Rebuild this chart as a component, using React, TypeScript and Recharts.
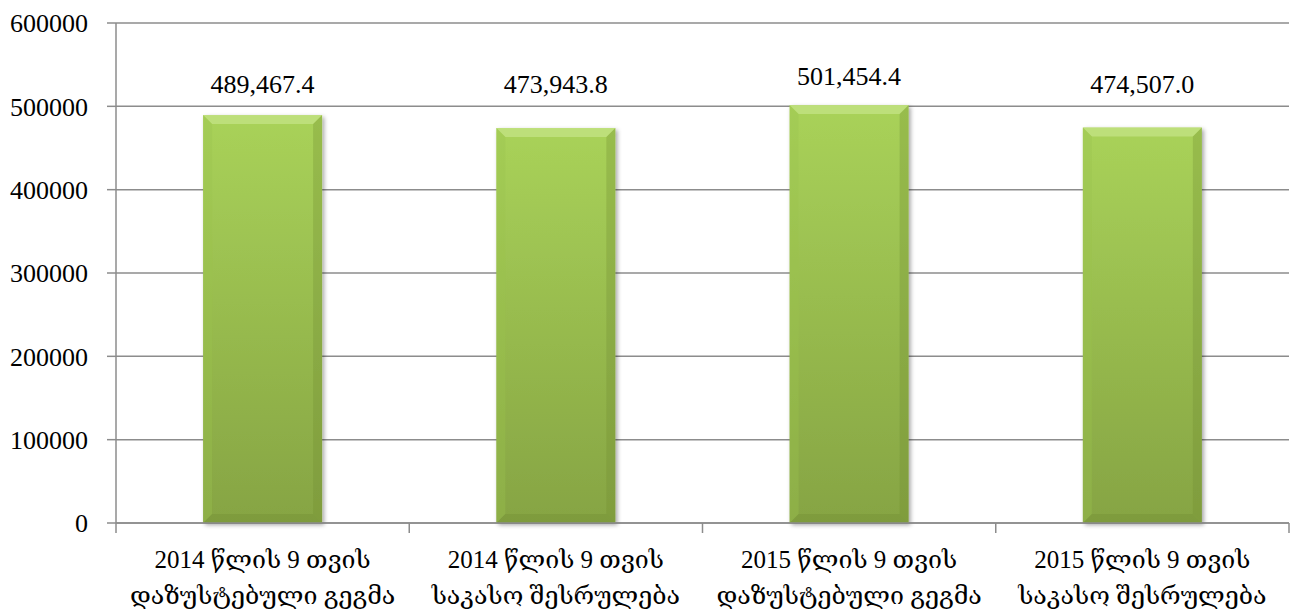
import React from 'react';
import { BarChart, Bar, XAxis, YAxis, CartesianGrid, LabelList } from 'recharts';

const categories = [
  '2014 წლის 9 თვის\nდაზუსტებული გეგმა',
  '2014 წლის 9 თვის\nსაკასო შესრულება',
  '2015 წლის 9 თვის\nდაზუსტებული გეგმა',
  '2015 წლის 9 თვის\nსაკასო შესრულება',
];
const amounts = [489467.4, 473943.8, 501454.4, 474507.0];
const yTicks = [0, 100000, 200000, 300000, 400000, 500000, 600000];

const data = categories.map((name, i) => ({ name, value: amounts[i] }));

const WIDTH = 1291;
const HEIGHT = 611;
const AXIS_W = 116;
const RIGHT = 2;
const STEP = (WIDTH - AXIS_W - RIGHT) / categories.length;

const FONT = '"Liberation Serif", "DejaVu Serif", "Times New Roman", serif';
const GRID = '#8c8c8c';

const fmt = (v: number) =>
  v.toLocaleString('en-US', { minimumFractionDigits: 1, maximumFractionDigits: 1 });

// category label in two lines, plus tick marks on the band edges
const CategoryTick = (props: any) => {
  const { x, y, payload, index } = props;
  const lines = String(payload.value).split('\n');
  const left = x - STEP / 2;
  return (
    <g>
      <line x1={left} y1={y} x2={left} y2={y + 10} stroke={GRID} strokeWidth={1.5} />
      {index === categories.length - 1 && (
        <line x1={x + STEP / 2} y1={y} x2={x + STEP / 2} y2={y + 10} stroke={GRID} strokeWidth={1.5} />
      )}
      {lines.map((l, i) => (
        <text key={i} x={x} y={y + 45 + i * 36} textAnchor="middle" fill="#000" style={{ fontSize: 25, fontFamily: FONT }}>
          {l}
        </text>
      ))}
    </g>
  );
};

// value labels sit on a common line unless the bar pushes them higher
const LABEL_LINE = 93;
const ValueLabel = (props: any) => {
  const { x, y, width, value } = props;
  const base = Math.min(y - 20, LABEL_LINE);
  return (
    <text x={x + width / 2} y={base} textAnchor="middle" fill="#000" style={{ fontSize: 26, fontFamily: FONT }}>
      {fmt(Number(value))}
    </text>
  );
};

// bevelled bar with a soft shadow
const BevelBar = (props: any) => {
  const { x, y, width: w, height: h } = props;
  if (!h || h <= 0) return null;
  const b = 9;
  return (
    <g filter="url(#barShadow)">
      <rect x={x} y={y} width={w} height={h} fill="url(#barFill)" />
      <polygon points={`${x},${y} ${x + w},${y} ${x + w - b},${y + b} ${x + b},${y + b}`} fill="#c4e385" opacity={0.75} />
      <polygon points={`${x},${y} ${x + b},${y + b} ${x + b},${y + h - b} ${x},${y + h}`} fill="#9cc24e" opacity={0.35} />
      <polygon points={`${x + w},${y} ${x + w},${y + h} ${x + w - b},${y + h - b} ${x + w - b},${y + b}`} fill="#6f8c33" opacity={0.3} />
      <polygon points={`${x},${y + h} ${x + w},${y + h} ${x + w - b},${y + h - b} ${x + b},${y + h - b}`} fill="#6f8c33" opacity={0.35} />
    </g>
  );
};

export default function App() {
  return (
    <div style={{ position: 'absolute', left: 0, top: 0, background: '#fff', fontFamily: FONT }}>
      <BarChart
        width={WIDTH}
        height={HEIGHT}
        data={data}
        margin={{ top: 23, right: RIGHT, bottom: 0, left: 0 }}
        barCategoryGap="29.7%"
        style={{ fontFamily: FONT }}
      >
        <defs>
          <linearGradient id="barFill" x1="0" y1="0" x2="0" y2="1">
            <stop offset="0%" stopColor="#a9d259" />
            <stop offset="100%" stopColor="#86a443" />
          </linearGradient>
          <filter id="barShadow" x="-10%" y="-10%" width="125%" height="125%">
            <feDropShadow dx="2" dy="2" stdDeviation="2" floodColor="#000" floodOpacity="0.35" />
          </filter>
        </defs>
        <CartesianGrid vertical={false} stroke={GRID} strokeWidth={1.5} />
        <XAxis
          dataKey="name"
          height={88}
          interval={0}
          axisLine={{ stroke: GRID, strokeWidth: 1.5 }}
          tickLine={false}
          tickSize={0}
          tickMargin={0}
          tick={<CategoryTick />}
        />
        <YAxis
          width={AXIS_W}
          domain={[0, 600000]}
          ticks={yTicks}
          interval={0}
          axisLine={{ stroke: GRID, strokeWidth: 1.5 }}
          tickLine={{ stroke: GRID, strokeWidth: 1.5 }}
          tickSize={9}
          tickMargin={19}
          tick={{ fill: '#000', fontSize: 26, style: { fontFamily: FONT } }}
        />
        <Bar dataKey="value" shape={<BevelBar />} isAnimationActive={false}>
          <LabelList dataKey="value" content={<ValueLabel />} />
        </Bar>
      </BarChart>
    </div>
  );
}
